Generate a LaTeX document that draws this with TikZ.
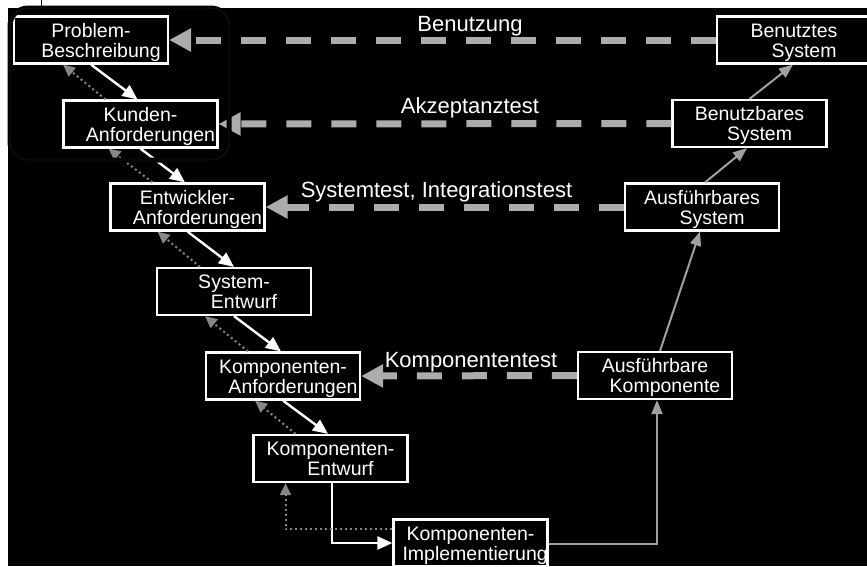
\documentclass[tikz,border=0pt]{standalone}
\usepackage{fontspec}
\setmainfont{Liberation Sans}
\usetikzlibrary{arrows.meta,calc}
\definecolor{dashgray}{RGB}{172,172,172}
\definecolor{dotgray}{RGB}{135,135,135}
\definecolor{linegray}{RGB}{160,160,160}
\definecolor{rimgray}{RGB}{20,20,20}
% second text line of a phase box, set slightly to the right
\newcommand{\secondline}[2][20pt]{\mbox{\hspace*{#1}#2}}

\begin{document}
\begin{tikzpicture}[x=1pt,y=-1pt,
  phase/.style={draw=white, line width=2.2pt, fill=black, text=white,
    minimum width=154pt, minimum height=47pt, inner sep=0pt,
    text width=154pt, text height=17pt, text depth=23pt,
    align=center, font=\fontsize{19.5}{20}\selectfont},
  fwd/.style={draw=white, line width=2.4pt, -{Triangle[length=15pt,width=13pt]}},
  back/.style={draw=dotgray, line width=2pt, dash pattern=on 2pt off 3pt,
    -{Triangle[length=12pt,width=11pt]}},
  rise/.style={draw=linegray, line width=2pt, -{Triangle[length=14pt,width=11pt]}},
  test/.style={draw=dashgray, line width=7pt, dash pattern=on 25pt off 20pt,
    -{Triangle[length=22pt,width=22pt]}},
  lbl/.style={text=white, anchor=base, inner sep=0pt, font=\fontsize{22}{24}\selectfont}]

\useasboundingbox (0,0) rectangle (867,566);
\fill[white] (0,0) rectangle (867,566);
\fill[black] (7.5,8) rectangle (867,566);
\draw[black, line width=1.3pt] (41.5,0) -- (41.5,8);

% left branch: specification phases
\node[phase] (pb)  at (91,40)     {Problem-\\\secondline{Beschreibung}};
\node[phase] (ka)  at (140.5,124) {Kunden-\\\secondline{Anforderungen}};
\node[phase] (ea)  at (187.5,207) {Entwickler-\\\secondline{Anforderungen}};
\node[phase] (se)  at (234,291.5) {System-\\\secondline{Entwurf}};
\node[phase] (kan) at (283,376)   {Komponenten-\\\secondline{Anforderungen}};
\node[phase] (ke)  at (330.5,458.5) {Komponenten-\\\secondline{Entwurf}};
\node[phase] (ki)  at (470.5,543) {Komponenten-\\\secondline[9pt]{Implementierung}};

% right branch: integration results
\node[phase, minimum width=150pt] (ak) at (655,375.5) {Ausführbare\\\secondline{Komponente}};
\node[phase, minimum width=150pt] (as) at (702,207)   {Ausführbares\\\secondline{System}};
\node[phase] (bs) at (749.5,123.5) {Benutzbares\\\secondline{System}};
\node[phase] (bt) at (794,40)      {Benutztes\\\secondline{System}};

% refinement steps downwards
\draw[fwd] (pb.south) -- ([xshift=-3pt]ka.north);
\draw[fwd] (ka.south) -- ([xshift=-2.5pt]ea.north);
\draw[fwd] (ea.south) -- (se.north);
\draw[fwd] (se.south) -- ([xshift=-2pt]kan.north);
\draw[fwd] (kan.south) -- ([xshift=-2.5pt]ke.north);
\draw[fwd] ([xshift=1.5pt]ke.south) |- (ki.west);

% feedback to the previous phase
\draw[back] ([xshift=-35pt]ka.north) -- ([xshift=-28pt]pb.south);
\draw[back] ([xshift=-35pt]ea.north) -- ([xshift=-32pt]ka.south);
\draw[back] ([xshift=-34pt]se.north) -- ([xshift=-30pt]ea.south);
\draw[back] ([xshift=-35pt]kan.north) -- ([xshift=-29pt]se.south);
\draw[back] ([xshift=-35pt]ke.north) -- ([xshift=-28pt]kan.south);
\draw[back] ([yshift=14pt]ki.west) -| ([xshift=-45pt]ke.south);

% integration steps upwards
\draw[rise] ([yshift=-1pt]ki.east) -| ([xshift=2pt]ak.south);
\draw[rise] ([xshift=5pt]ak.north) -- ([xshift=-2pt]as.south);
\draw[rise] ([xshift=3pt]as.north) -- ([xshift=-2.5pt]bs.south);
\draw[rise] (bs.north) -- ([xshift=-1pt]bt.south);

% tests against the specification
\draw[test] (bt.west) -- (pb.east);
\draw[test] (bs.west) -- (ka.east);
\draw[test] (as.west) -- (ea.east);
\draw[test] (ak.west) -- (kan.east);

\node[lbl] (l1) at (470,31)    {Benutzung};
\node[lbl] (l2) at (470,113)   {Akzeptanztest};
\node[lbl] (l3) at (436.5,197) {Systemtest, Integrationstest};
\node[lbl] (l4) at (471,367)   {Komponententest};

% rounded frame around the first two phases
\draw[black, line width=5pt, rounded corners=18pt] (10,8) rectangle (229,160);
\draw[rimgray, line width=0.9pt, rounded corners=18pt] (10,8) rectangle (229,160);
\end{tikzpicture}
\end{document}
